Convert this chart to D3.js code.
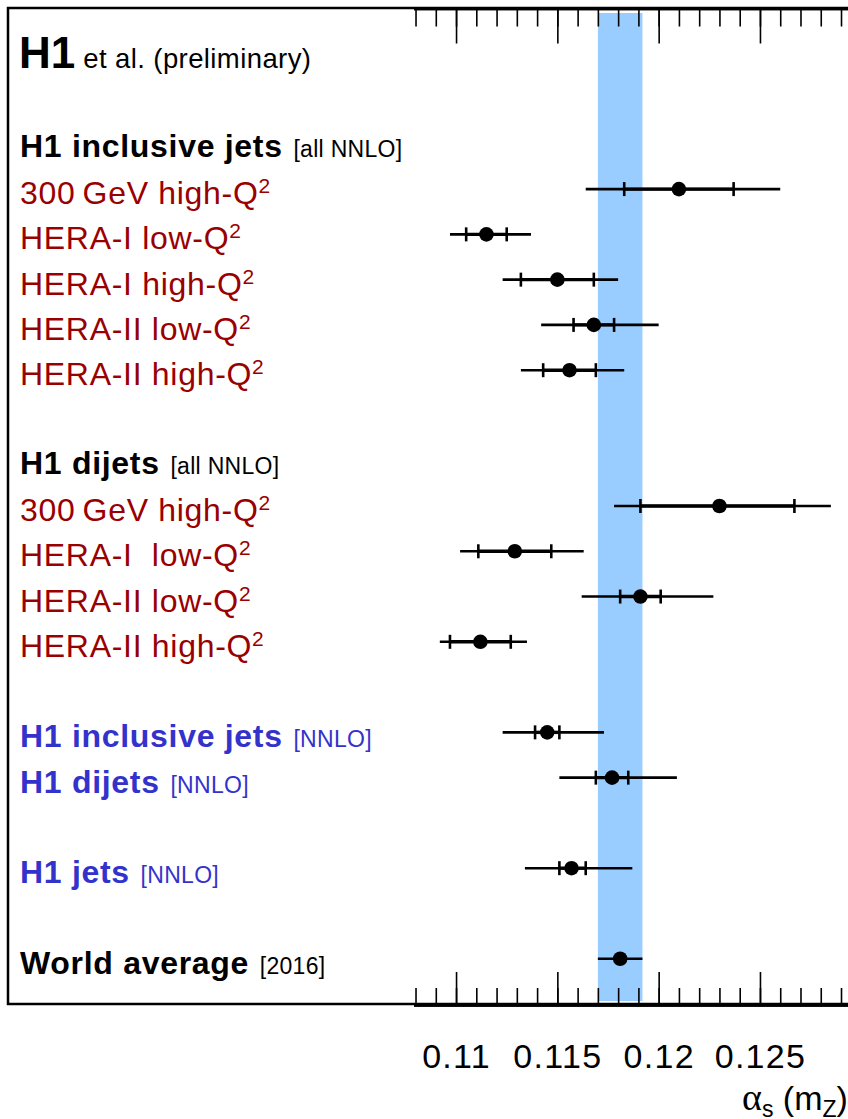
<!DOCTYPE html>
<html>
<head>
<meta charset="utf-8">
<script src="https://cdn.jsdelivr.net/npm/d3@7"></script>
<style>
  html, body { margin: 0; padding: 0; background: #fff; }
  svg { display: block; }
  text { font-family: "Liberation Sans", Arial, Helvetica, sans-serif; white-space: pre; }
</style>
</head>
<body>
<script>
// row order, top to bottom (gaps are empty rows)
var rowIds = ['title', 'gapA', 'hdrIncl', 'inc300', 'incHIlow', 'incHIhigh', 'incHIIlow', 'incHIIhigh',
  'gapB', 'hdrDi', 'di300', 'diHIlow', 'diHIIlow', 'diHIIhigh', 'gapC', 'comboIncl', 'comboDi',
  'gapD', 'jets', 'gapE', 'world'];

// group headers
var headerRows  = ['hdrIncl', 'hdrDi'];
var headerNames = ['H1 inclusive jets', 'H1 dijets'];
var headerNotes = ['[all NNLO]', '[all NNLO]'];

// measurements
var measRows   = ['inc300', 'incHIlow', 'incHIhigh', 'incHIIlow', 'incHIIhigh',
                  'di300', 'diHIlow', 'diHIIlow', 'diHIIhigh', 'comboIncl', 'comboDi', 'jets', 'world'];
var measNames  = ['300\u2009GeV high-Q^2', 'HERA-I low-Q^2', 'HERA-I high-Q^2', 'HERA-II low-Q^2', 'HERA-II high-Q^2',
                  '300\u2009GeV high-Q^2', 'HERA-I  low-Q^2', 'HERA-II low-Q^2', 'HERA-II high-Q^2',
                  'H1 inclusive jets', 'H1 dijets', 'H1 jets', 'World average'];
var measNotes  = ['', '', '', '', '', '', '', '', '', '[NNLO]', '[NNLO]', '[NNLO]', '[2016]'];
var measKind   = ['dataset', 'dataset', 'dataset', 'dataset', 'dataset',
                  'dataset', 'dataset', 'dataset', 'dataset', 'combined', 'combined', 'combined', 'reference'];
var central    = [0.1210, 0.1115, 0.1150, 0.1168, 0.1156, 0.1230, 0.1129, 0.1191, 0.1112, 0.1145, 0.1177, 0.1157, 0.1181];
var innerLo    = [0.1183, 0.1105, 0.1132, 0.1158, 0.1143, 0.1191, 0.1111, 0.1181, 0.1097, 0.1139, 0.1169, 0.1151, null];
var innerHi    = [0.1237, 0.1125, 0.1168, 0.1178, 0.1169, 0.1267, 0.1147, 0.1201, 0.1127, 0.1151, 0.1185, 0.1164, null];
var totalLo    = [0.1164, 0.1097, 0.1123, 0.1142, 0.1132, 0.1178, 0.1102, 0.1162, 0.1092, 0.1123, 0.1151, 0.1134, 0.1170];
var totalHi    = [0.1260, 0.1137, 0.1180, 0.1200, 0.1183, 0.1285, 0.1163, 0.1227, 0.1135, 0.1173, 0.1209, 0.1187, 0.1192];

var majorTicks = [0.11, 0.115, 0.12, 0.125];

var W = 848, H = 1119;
var frameL = 8, frameT = 8, frameB = 1004;

var svg = d3.select('body').append('svg').attr('width', W).attr('height', H);

var x = d3.scaleLinear().domain([0.1079, 0.1305]).range([413.5, 871.4]);
var y = d3.scalePoint().domain(rowIds).range([frameT, frameB]).padding(1);
var colour = d3.scaleOrdinal().domain(['dataset', 'combined', 'reference']).range(['#990000', '#3333cc', '#000']);

var wi = measRows.indexOf('world');

// world average band
svg.append('rect')
  .attr('x', x(totalLo[wi])).attr('y', 13)
  .attr('width', x(totalHi[wi]) - x(totalLo[wi])).attr('height', 988)
  .attr('fill', '#99ccff');

// frame
svg.append('rect')
  .attr('x', frameL).attr('y', frameT).attr('width', 950).attr('height', frameB - frameT)
  .attr('fill', 'none').attr('stroke', '#000').attr('stroke-width', 2.5);

// axes: minor + major ticks, top and bottom
var minor = d3.range(108, 130).map(function(v) { return v / 1000; });
function tickAxis(g, axis) {
  g.call(axis);
  g.selectAll('text').remove();
  g.select('.domain').attr('stroke-width', 2.5);
  g.selectAll('.tick line').attr('stroke-width', 1.6);
}
svg.append('g').attr('transform', 'translate(0,' + (frameT + 0.5) + ')')
  .call(tickAxis, d3.axisBottom(x).tickValues(minor).tickSize(18).tickSizeOuter(0));
svg.append('g').attr('transform', 'translate(0,' + (frameT + 0.5) + ')')
  .call(tickAxis, d3.axisBottom(x).tickValues(majorTicks).tickSize(35).tickSizeOuter(0));
svg.append('g').attr('transform', 'translate(0,' + (frameB + 1) + ')')
  .call(tickAxis, d3.axisTop(x).tickValues(minor).tickSize(17).tickSizeOuter(0));
svg.append('g').attr('transform', 'translate(0,' + (frameB + 1) + ')')
  .call(tickAxis, d3.axisTop(x).tickValues(majorTicks).tickSize(33).tickSizeOuter(0));

// tick labels
var lab = svg.append('g').attr('transform', 'translate(0,1068)')
  .call(d3.axisBottom(x).tickValues(majorTicks).tickSize(0).tickPadding(0).tickFormat(d3.format('~g')));
lab.select('.domain').remove();
lab.selectAll('text')
  .attr('dy', 0).attr('y', 0)
  .style('font-size', '34px').style('letter-spacing', '1.3px').attr('fill', '#000')
  .style('font-family', '"Liberation Sans", Arial, sans-serif');

// axis title
var at = svg.append('text').attr('x', 742).attr('y', 1110).style('font-size', '34px');
at.append('tspan').text('\u03b1').style('font-family', '"Liberation Serif", serif').style('font-size', '38px');
at.append('tspan').text('s').attr('dy', 7).style('font-size', '23px');
at.append('tspan').text(' (m').attr('dy', -7);
at.append('tspan').text('Z').attr('dy', 7).style('font-size', '23px');
at.append('tspan').text(')').attr('dy', -7);

// title
var tt = svg.append('text').attr('x', 19).attr('y', y('title') + 15);
tt.append('tspan').text('H1').style('font-weight', 'bold').style('font-size', '44px');
tt.append('tspan').text(' et al. (preliminary)').style('font-size', '27.5px').style('letter-spacing', '0.4px');

// label helper: "name^sup" + note
function addLabel(sel, name, note, bold, fill) {
  var t = sel.append('text').attr('x', 20).attr('fill', fill);
  var parts = name.split('^');
  t.append('tspan').text(parts[0]).style('font-size', '32px').style('letter-spacing', '0.7px')
    .style('font-weight', bold ? 'bold' : 'normal');
  if (parts[1]) {
    t.append('tspan').text(parts[1]).attr('dy', -11).style('font-size', '21px');
  }
  if (note) {
    t.append('tspan').text(' ' + note).attr('dx', 4).style('font-size', '23px').style('letter-spacing', '0.3px');
  }
  return t;
}

headerRows.forEach(function(r, i) {
  addLabel(svg, headerNames[i], headerNotes[i], true, '#000').attr('y', y(r) + 13);
});
measRows.forEach(function(r, i) {
  addLabel(svg, measNames[i], measNotes[i], measKind[i] !== 'dataset', colour(measKind[i])).attr('y', y(r) + 15);
});

// error bars and points
var marks = svg.selectAll('.meas').data(measRows).enter().append('g').attr('class', 'meas');
marks.append('line')
  .attr('x1', function(d, i) { return x(totalLo[i]); })
  .attr('x2', function(d, i) { return x(totalHi[i]); })
  .attr('y1', function(d) { return y(d); }).attr('y2', function(d) { return y(d); })
  .attr('stroke', '#000').attr('stroke-width', 2.6);
marks.filter(function(d, i) { return innerLo[i] !== null; }).each(function(d) {
  var i = measRows.indexOf(d), g = d3.select(this), yy = y(d);
  g.append('line').attr('x1', x(innerLo[i])).attr('x2', x(innerHi[i]))
    .attr('y1', yy).attr('y2', yy).attr('stroke', '#000').attr('stroke-width', 3.4);
  [innerLo[i], innerHi[i]].forEach(function(v) {
    g.append('line').attr('x1', x(v)).attr('x2', x(v)).attr('y1', yy - 7).attr('y2', yy + 7)
      .attr('stroke', '#000').attr('stroke-width', 2.6);
  });
});
marks.append('circle')
  .attr('cx', function(d, i) { return x(central[i]); })
  .attr('cy', function(d) { return y(d); })
  .attr('r', 7.3).attr('fill', '#000');
</script>
</body>
</html>
